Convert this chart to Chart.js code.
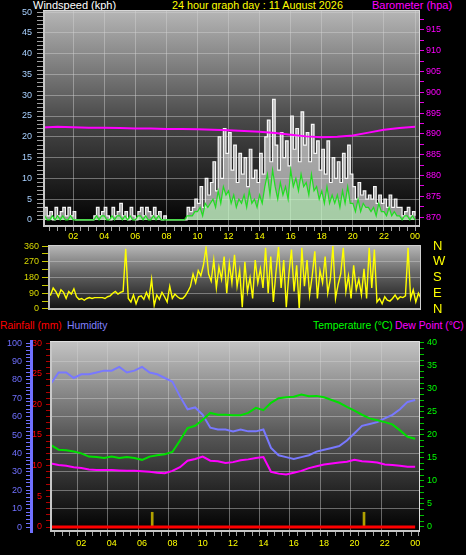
<!DOCTYPE html>
<html>
<head>
<meta charset="utf-8">
<script src="https://cdn.jsdelivr.net/npm/chart.js@4.4.0/dist/chart.umd.min.js"></script>
<style>
  html, body { margin:0; padding:0; background:#000; width:466px; height:555px; overflow:hidden; }
  body { position:relative; font-family:"Liberation Sans", Arial, sans-serif; }
  canvas { position:absolute; left:0; }
  .t { position:absolute; white-space:nowrap; line-height:1; }
</style>
</head>
<body>
<div class="t" style="left:33px;top:0px;font-size:11px;color:#ffffff">Windspeed (kph)</div>
<div class="t" style="left:172px;top:0px;font-size:10.8px;color:#ffff00">24 hour graph day : 11 August 2026</div>
<div class="t" style="left:372px;top:0px;font-size:11px;color:#ff00ff">Barometer (hpa)</div>
<div class="t" style="left:0px;top:321px;font-size:10.4px;color:#ff0000">Rainfall (mm)</div>
<div class="t" style="left:67px;top:321px;font-size:10.4px;color:#8080ff">Humidity</div>
<div class="t" style="left:313px;top:321px;font-size:10.4px;color:#00ff00">Temperature (°C)</div>
<div class="t" style="left:395px;top:321px;font-size:10.4px;color:#ff00ff">Dew Point (°C)</div>

<canvas id="c1" width="466" height="245" style="top:0px;width:466px;height:245px"></canvas>
<canvas id="c2" width="466" height="80" style="top:238px;width:466px;height:80px"></canvas>
<canvas id="c3" width="466" height="237" style="top:318px;width:466px;height:237px"></canvas>

<script>
// ---------------- DATA ----------------
const hourLabels = ['02','04','06','08','10','12','14','16','18','20','22','00'];
const compassLabels = ['N','E','S','W','N']; // 0, 90, 180, 270, 360

// wind, 10-minute samples, 00:00 .. 24:00 (kph)
const windGust = [
  1,3,1,2,0,3,   1,2,3,1,3,1,   2,0,0,0,0,0,   0,0,1,3,1,2,
  3,1,0,3,1,2,   4,1,2,0,3,1,   0,2,3,1,3,2,   1,3,1,2,0,1,
  0,0,0,0,0,0,   0,0,3,2,3,5,   4,8,3,10,6,9,  14,7,20,10,22,16,
  21,12,18,9,16,11, 15,8,17,10,12,9, 16,11,20,24,14,29, 18,12,21,15,19,13,
  25,17,22,14,26,18, 21,14,23,16,19,12, 17,11,19,9,15,10, 14,9,16,10,18,11,
  8,5,9,6,7,5,   6,5,8,4,6,4,   5,3,6,3,5,3,   3,1,2,3,1,2,   1
];
const windAvg = [
  0,1,0,0,1,0,   1,0,1,0,0,1,   0,0,0,0,0,0,   0,0,0,1,0,1,
  1,0,0,1,0,1,   1,0,1,0,1,0,   0,1,1,0,1,0,   0,1,0,1,0,0,
  0,0,0,0,0,0,   0,0,1,1,1,2,   2,3,1,4,3,4,   5,3,7,4,8,6,
  7,4,6,3,5,4,   6,3,7,4,5,3,   6,4,8,11,6,12, 8,5,9,6,8,5,
  12,8,10,7,11,8, 9,6,11,7,8,5, 7,4,8,4,6,4,   6,3,7,4,8,4,
  4,2,5,2,4,3,   3,2,3,1,4,2,   2,1,3,1,2,1,   1,0,1,1,0,1,   0
];
// wind direction, 10-minute samples (degrees)
const windDir = [
  90,80,120,100,70,110,  95,60,100,85,115,70,  55,60,50,60,65,60,  65,65,65,65,60,70,
  75,90,100,85,95,100,   345,60,40,80,30,70,   75,55,95,60,170,20,  80,55,95,70,40,130,
  60,85,70,60,60,75,     100,130,200,150,220,190, 250,350,200,160,280,120, 240,170,300,90,260,150,
  310,130,220,10,270,100, 180,60,280,150,230,120, 350,90,300,40,210,355, 120,280,10,200,340,100,
  250,0,350,130,280,80,  190,330,60,220,150,300, 90,170,360,60,140,200, 350,100,190,60,250,110,
  170,80,230,60,350,120, 340,40,60,30,70,50,  45,60,80,55,70,65,  75,350,60,110,40,90,  60
];
// barometer, hourly (hPa)
const barometer = [891.5,891.7,891.6,891.5,891.5,891.4,891.3,891.3,891.2,891.2,891.1,891.0,
  890.9,890.7,890.5,890.2,889.8,889.4,889.2,889.3,889.6,890.3,891.0,891.4,891.7];
// half-hourly, 00:00 .. 24:00
const humidity = [78,84,84,81,83,83,84,85,85,87,84,85,87,84,83,81,79,71,64,65,61,54,53,53,
  52,53,52,52,53,43,39,38,37,38,39,41,42,43,44,47,51,55,56,57,59,61,64,68,69];
const temperature = [17.8,16.8,16.7,16.4,16.0,15.3,15.2,15.0,15.3,15.0,15.2,15.0,14.6,15.3,15.6,15.8,
  16.3,18.8,21.5,22.0,23.3,24.8,24.4,24.4,24.3,24.3,24.8,25.9,25.4,27.0,28.0,28.2,28.3,28.8,28.4,28.5,
  28.2,27.6,27.0,26.1,25.3,24.4,23.6,23.2,22.8,22.3,21.0,19.6,19.2];
const dewPoint = [13.8,13.5,13.3,13.0,12.8,12.5,12.4,12.4,12.4,12.3,12.2,12.2,12.1,12.0,11.8,11.7,
  12.2,13.0,14.4,14.8,15.3,14.4,14.3,13.9,14.1,14.5,14.7,15.0,15.2,12.0,11.6,11.4,11.8,12.2,12.8,13.2,
  13.6,13.8,14.0,14.2,14.6,14.3,14.2,14.0,13.6,13.5,13.3,13.1,13.1];
// rainfall, hourly (mm)
const rainfall = [0,0,0,0,0,0,0,0,0,0,0,0,0,0,0,0,0,0,0,0,0,0,0,0,0];
const rainMarkHours = [6.67, 20.63];
const rainMarkValues = [2.4, 2.4];

// ---------------- HELPERS ----------------
const pts = (arr, step) => arr.map((y, i) => ({x: i * step, y}));
const range = (a, b, s) => { const r = []; for (let v = a; v <= b + 1e-9; v += s) r.push(Math.round(v * 100) / 100); return r; };
const setTicks = vals => axis => { axis.ticks = vals.map(v => ({value: v})); };
const fitW = w => s => { s.width = w; s.paddingTop = 0; s.paddingBottom = 0; };
const fitH = h => s => { s.height = h; s.paddingLeft = 0; s.paddingRight = 0; };
const FONT = {family: '"Liberation Sans", Arial, sans-serif', size: 9};
const GRID = 'rgba(210,210,210,0.45)';
const hourLabel = v => (v > 0 && v % 2 === 0) ? hourLabels[v / 2 - 1] : '';

const plotBg = {
  id: 'plotBg',
  beforeDraw(chart, args, o) {
    const {ctx, chartArea: a} = chart;
    const g = ctx.createLinearGradient(0, a.top, 0, a.bottom);
    g.addColorStop(0, o.top); g.addColorStop(0.5, o.mid); g.addColorStop(1, o.bottom);
    ctx.save(); ctx.fillStyle = g;
    ctx.fillRect(a.left, a.top, a.right - a.left, a.bottom - a.top);
    ctx.restore();
  },
  afterDatasetsDraw(chart, args, o) {
    const {ctx, chartArea: a} = chart;
    ctx.save();
    ctx.strokeStyle = o.edge; ctx.lineWidth = 2;
    ctx.beginPath();
    ctx.moveTo(a.left + 1, a.top); ctx.lineTo(a.left + 1, a.bottom - 1); ctx.lineTo(a.right, a.bottom - 1);
    ctx.stroke();
    ctx.strokeStyle = o.edge2; ctx.lineWidth = 1;
    ctx.beginPath();
    ctx.moveTo(a.left, a.top + 0.5); ctx.lineTo(a.right - 0.5, a.top + 0.5); ctx.lineTo(a.right - 0.5, a.bottom);
    ctx.stroke();
    ctx.restore();
  }
};

const base = {
  responsive: false, animation: false, events: [],
  plugins: {legend: {display: false}, tooltip: {enabled: false}},
  elements: {point: {radius: 0}, line: {tension: 0}}
};

// ---------------- TOP: WIND + BAROMETER ----------------
new Chart(document.getElementById('c1'), {
  type: 'line',
  data: {
    datasets: [
      {data: pts(barometer, 1), yAxisID: 'yb', borderColor: '#ff00ff', borderWidth: 2, order: 0},
      {data: pts(windAvg, 1/6), yAxisID: 'y', borderColor: '#22dd22', borderWidth: 1.2,
        fill: 'origin', backgroundColor: 'rgba(180,255,180,0.5)', order: 1},
      {data: pts(windGust, 1/6), yAxisID: 'y', borderColor: '#f8f8f8', borderWidth: 1.2, stepped: true,
        fill: 'origin', backgroundColor: 'rgba(230,230,230,0.65)', order: 2}
    ]
  },
  options: {
    ...base,
    layout: {padding: {top: 10, left: 0, right: 0, bottom: 0}},
    plugins: {...base.plugins, plotBg: {top: '#b6b6b6', mid: '#4a4a4a', bottom: '#000000', edge: '#c8c8c8', edge2: '#d8d8d8'}},
    scales: {
      x: {type: 'linear', min: 0.06, max: 24.32, offset: false,
        afterBuildTicks: setTicks(range(0.5, 24, 0.5)),
        afterFit: fitH(18),
        border: {display: false},
        grid: {color: c => (c.tick && c.tick.value % 2 === 0) ? GRID : 'rgba(0,0,0,0)', borderDash: [1, 2],
          tickColor: '#a0a0a0', tickLength: 4},
        ticks: {autoSkip: false, maxRotation: 0, color: '#ffff00', font: FONT, padding: 0, callback: hourLabel}},
      y: {position: 'left', min: -1.7, max: 50.5,
        afterBuildTicks: setTicks(range(0, 50, 1)),
        afterFit: fitW(43),
        border: {display: false},
        grid: {color: c => (c.tick && c.tick.value % 5 === 0) ? GRID : 'rgba(0,0,0,0)', borderDash: [1, 2],
          tickColor: '#a0a0a0', tickLength: 6},
        ticks: {autoSkip: false, color: '#a8d0ff', font: FONT, padding: 5,
          callback: v => v % 5 === 0 ? String(v) : ''}},
      yb: {position: 'right', min: 867.6, max: 919.8,
        afterBuildTicks: setTicks(range(870, 917.5, 2.5)),
        afterFit: fitW(46),
        border: {display: false},
        grid: {drawOnChartArea: false, tickColor: '#e000e0', tickLength: 4},
        ticks: {autoSkip: false, color: '#ff00ff', font: FONT, padding: 2,
          callback: v => v % 5 === 0 ? String(v) : ''}}
    }
  },
  plugins: [plotBg]
});

// ---------------- MIDDLE: WIND DIRECTION ----------------
new Chart(document.getElementById('c2'), {
  type: 'line',
  data: {
    datasets: [
      {data: pts(windDir, 1/6), yAxisID: 'y', borderColor: '#ffff00', borderWidth: 1.4}
    ]
  },
  options: {
    ...base,
    layout: {padding: {top: 7, bottom: 8, left: 0, right: 0}},
    plugins: {...base.plugins, plotBg: {top: '#b8b8b8', mid: '#5a5a5a', bottom: '#101010', edge: '#bcbcbc', edge2: '#d0d0d0'}},
    scales: {
      x: {type: 'linear', min: 0, max: 24, display: false, offset: false},
      y: {position: 'left', min: -6, max: 366,
        afterBuildTicks: setTicks(range(0, 360, 45)),
        afterFit: fitW(48),
        border: {display: false},
        grid: {color: c => (c.tick && c.tick.value % 90 === 0 && c.tick.value > 0 && c.tick.value < 360) ? GRID : 'rgba(0,0,0,0)',
          borderDash: [1, 2], tickColor: '#c8c800', tickLength: 6},
        ticks: {autoSkip: false, color: '#d8d800', font: FONT, padding: 3,
          callback: v => v % 90 === 0 ? String(v) : ''}},
      yc: {position: 'right', min: -6, max: 366,
        afterBuildTicks: setTicks(range(0, 360, 90)),
        afterFit: fitW(45),
        border: {display: false},
        grid: {drawOnChartArea: false, drawTicks: false},
        ticks: {autoSkip: false, color: '#ffff00', font: {family: FONT.family, size: 13}, padding: 12,
          callback: v => compassLabels[v / 90]}}
    }
  },
  plugins: [plotBg]
});

// ---------------- BOTTOM: RAIN / HUMIDITY / TEMP / DEW ----------------
new Chart(document.getElementById('c3'), {
  type: 'line',
  data: {
    datasets: [
      {data: pts(dewPoint, 0.5), yAxisID: 'yt', borderColor: '#ff00ff', borderWidth: 2, order: 1},
      {data: pts(temperature, 0.5), yAxisID: 'yt', borderColor: '#00e000', borderWidth: 2, order: 2},
      {data: pts(humidity, 0.5), yAxisID: 'yh', borderColor: '#7878ff', borderWidth: 2, order: 3},
      {data: pts(rainfall, 1), yAxisID: 'yr', borderColor: '#ff0000', borderWidth: 3, order: 0},
      {type: 'bar', data: rainMarkHours.map((h, i) => ({x: h, y: rainMarkValues[i]})), yAxisID: 'yr',
        backgroundColor: '#b0a000', barThickness: 2, grouped: false, order: 4}
    ]
  },
  options: {
    ...base,
    layout: {padding: {top: 23, left: 0, right: 0, bottom: 0}},
    plugins: {...base.plugins, plotBg: {top: '#c4c4c4', mid: '#555555', bottom: '#000000', edge: '#c8c8c8', edge2: '#e0e0e0'}},
    scales: {
      x: {type: 'linear', min: -0.066, max: 24.32, offset: false,
        afterBuildTicks: setTicks(range(0.5, 24, 0.5)),
        afterFit: fitH(23),
        border: {display: false},
        grid: {color: c => (c.tick && c.tick.value % 2 === 0 && c.tick.value < 24) ? GRID : 'rgba(0,0,0,0)', borderDash: [1, 2],
          tickColor: '#a0a0a0', tickLength: 4},
        ticks: {autoSkip: false, maxRotation: 0, color: '#ffff00', font: FONT, padding: 2, callback: hourLabel}},
      yr: {position: 'left', min: -0.815, max: 30.33,
        afterBuildTicks: setTicks(range(0, 30, 1)),
        afterFit: fitW(19),
        border: {display: false},
        grid: {drawOnChartArea: false, tickColor: '#b00000', tickLength: 4},
        ticks: {autoSkip: false, color: '#ff0000', font: FONT, padding: 4,
          callback: v => v % 5 === 0 ? String(v) : ''}},
      yh: {position: 'left', min: -2.7, max: 101.1,
        afterBuildTicks: setTicks(range(0, 100, 2)),
        afterFit: fitW(31),
        border: {display: true, color: '#7070ff', width: 3},
        grid: {color: c => (c.tick && c.tick.value % 10 === 0 && c.tick.value > 0 && c.tick.value < 100) ? GRID : 'rgba(0,0,0,0)',
          borderDash: [1, 2], tickColor: '#7070ff', tickLength: 5},
        ticks: {autoSkip: false, color: '#7070ff', font: FONT, padding: 4,
          callback: v => v % 10 === 0 ? String(v) : ''}},
      yt: {position: 'right', min: -1.087, max: 40.43,
        afterBuildTicks: setTicks(range(0, 40, 1.25)),
        afterFit: fitW(46),
        border: {display: false},
        grid: {drawOnChartArea: false, tickColor: '#00c000', tickLength: 4},
        ticks: {autoSkip: false, color: '#00ff00', font: FONT, padding: 3,
          callback: v => v % 5 === 0 ? String(v) : ''}}
    }
  },
  plugins: [plotBg]
});
</script>
</body>
</html>
